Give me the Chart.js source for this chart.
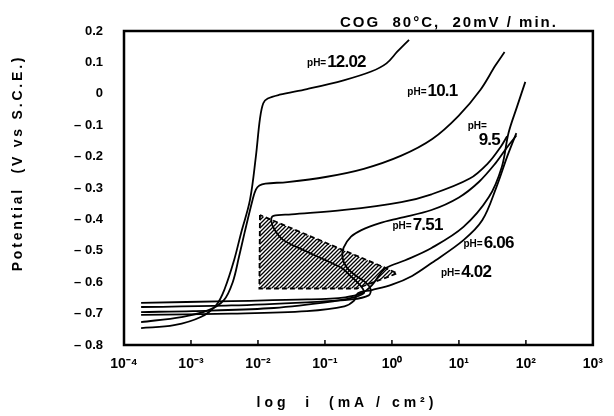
<!DOCTYPE html>
<html>
<head>
<meta charset="utf-8">
<script src="https://cdn.jsdelivr.net/npm/chart.js@4.4.1/dist/chart.umd.min.js"></script>
<style>
  html, body { margin: 0; padding: 0; background: #fff; }
  #wrap { width: 614px; height: 416px; position: relative; }
</style>
</head>
<body>
<div id="wrap"><canvas id="polChart"></canvas></div>
<script>
// Polarization curves, current density (mA/cm2) vs potential (V vs S.C.E.)
const phNames = ['12.02', '10.1', '9.5', '7.51', '6.06', '4.02'];

const i1202 = [1.8e-4, 5.6e-4, 1.4e-3, 2.4e-3, 3.2e-3, 4.4e-3, 5.6e-3, 7.6e-3, 9.3e-3, 0.0107, 0.012, 0.014, 0.021, 0.054, 0.19, 0.49, 0.83, 1.2, 1.8];
const e1202 = [-0.746, -0.737, -0.711, -0.672, -0.62, -0.53, -0.443, -0.338, -0.2, -0.08, -0.03, -0.015, -0.003, 0.015, 0.043, 0.071, 0.097, 0.134, 0.172];

const i101 = [1.8e-4, 7.2e-4, 1.8e-3, 3.1e-3, 4.2e-3, 5.2e-3, 6.3e-3, 8.3e-3, 9.3e-3, 0.0105, 0.0129, 0.0275, 0.102, 0.38, 1.38, 4.0, 9.8, 21, 35, 48];
const e101 = [-0.727, -0.711, -0.69, -0.657, -0.6, -0.52, -0.443, -0.338, -0.305, -0.292, -0.286, -0.281, -0.265, -0.239, -0.197, -0.144, -0.071, 0.013, 0.09, 0.133];

const i95 = [1.8e-4, 1.07e-3, 0.0145, 0.102, 0.25, 0.38, 0.37, 0.32, 0.25, 0.178, 0.1, 0.047, 0.024, 0.0178, 0.0158, 0.017, 0.0316, 0.195, 1.38, 3.9, 14.5, 27.5, 41.7, 52.5];
const e95 = [-0.695, -0.692, -0.683, -0.664, -0.65, -0.635, -0.622, -0.605, -0.583, -0.555, -0.529, -0.497, -0.466, -0.434, -0.405, -0.389, -0.384, -0.37, -0.345, -0.32, -0.27, -0.22, -0.17, -0.135];

const i751 = [1.8e-4, 4.0e-3, 0.054, 0.25, 0.45, 0.48, 0.4, 0.28, 0.21, 0.182, 0.19, 0.245, 0.35, 0.66, 1.29, 3.9, 10, 20, 35.5, 52.5, 72];
const e751 = [-0.679, -0.674, -0.664, -0.655, -0.642, -0.622, -0.6, -0.577, -0.552, -0.52, -0.49, -0.455, -0.434, -0.412, -0.396, -0.37, -0.33, -0.28, -0.22, -0.17, -0.133];

const i606 = [1.8e-4, 4.0e-3, 0.054, 0.2, 0.355, 0.5, 0.66, 0.81, 1.58, 3.9, 11.7, 28, 43.7, 55, 74, 98];
const e606 = [-0.666, -0.66, -0.655, -0.648, -0.635, -0.61, -0.575, -0.555, -0.53, -0.491, -0.424, -0.329, -0.233, -0.125, -0.04, 0.038];

const i402 = [1.8e-4, 4.0e-3, 0.054, 0.195, 0.275, 0.31, 0.5, 1.0, 2.0, 3.9, 11.7, 22.4, 36.3, 52.5, 72];
const e402 = [-0.704, -0.70, -0.692, -0.677, -0.658, -0.635, -0.625, -0.608, -0.58, -0.539, -0.466, -0.402, -0.297, -0.2, -0.125];

// hatched (dashed) region
const hatchI = [0.0107, 0.0105, 0.30, 1.2, 0.81, 0.0125, 0.0107];
const hatchE = [-0.386, -0.62, -0.62, -0.572, -0.555, -0.392, -0.386];

const xDecades = [1e-4, 1e-3, 1e-2, 1e-1, 1, 10, 100, 1000];
const yTicks = [0.2, 0.1, 0, -0.1, -0.2, -0.3, -0.4, -0.5, -0.6, -0.7, -0.8];

// curve labels: where the "pH=" tag sits (current, potential)
const tagI = [0.054, 1.7, 13.5, 1.02, 11.7, 5.4];
const tagE = [0.10, 0.008, -0.10, -0.418, -0.475, -0.568];

const seriesI = [i1202, i101, i95, i751, i606, i402];
const seriesE = [e1202, e101, e95, e751, e606, e402];

const FONT = '"Liberation Sans", Arial, Helvetica, sans-serif';
const sup = { '-': '\u207B', '0': '\u2070', '1': '\u00B9', '2': '\u00B2', '3': '\u00B3', '4': '\u2074' };

function hatchPattern() {
  const c = document.createElement('canvas');
  c.width = 4; c.height = 4;
  const g = c.getContext('2d');
  g.strokeStyle = '#000';
  g.lineWidth = 1.3;
  g.beginPath();
  g.moveTo(0, 4); g.lineTo(4, 0);
  g.moveTo(-1, 1); g.lineTo(1, -1);
  g.moveTo(3, 5); g.lineTo(5, 3);
  g.stroke();
  return g.createPattern(c, 'repeat');
}

const pts = (xs, ys) => xs.map((v, k) => ({ x: v, y: ys[k] }));

const datasets = [{
  label: 'hatch',
  data: pts(hatchI, hatchE),
  showLine: true,
  fill: 'shape',
  backgroundColor: hatchPattern(),
  borderColor: '#000',
  borderWidth: 1.8,
  borderDash: [5, 3],
  tension: 0,
  pointRadius: 0
}];
phNames.forEach((n, k) => {
  datasets.push({
    label: 'pH=' + n,
    data: pts(seriesI[k], seriesE[k]),
    showLine: true,
    fill: false,
    borderColor: '#000',
    borderWidth: 1.8,
    tension: 0.35,
    pointRadius: 0
  });
});

const decor = {
  id: 'decor',
  afterDraw(chart) {
    const { ctx, chartArea: a, scales: { x, y } } = chart;
    ctx.save();
    ctx.fillStyle = '#000';
    ctx.strokeStyle = '#000';

    // frame + inner ticks on the bottom axis
    ctx.lineWidth = 2.5;
    ctx.strokeRect(a.left, a.top, a.right - a.left, a.bottom - a.top);
    ctx.lineWidth = 1.5;
    xDecades.forEach(v => {
      const px = x.getPixelForValue(v);
      ctx.beginPath();
      ctx.moveTo(px, a.bottom);
      ctx.lineTo(px, a.bottom - 5);
      ctx.stroke();
    });

    // curve tags
    ctx.textBaseline = 'middle';
    phNames.forEach((n, k) => {
      const px = x.getPixelForValue(tagI[k]);
      const py = y.getPixelForValue(tagE[k]);
      ctx.font = 'bold 10px ' + FONT;
      ctx.letterSpacing = '0px';
      ctx.textAlign = 'left';
      ctx.fillText('pH=', px, py + 1);
      const w = ctx.measureText('pH=').width;
      ctx.font = 'bold 17px ' + FONT;
      ctx.letterSpacing = '-0.8px';
      if (n === '9.5') {
        ctx.fillText(n, px + 11, py + 15);
      } else {
        ctx.fillText(n, px + w + 1, py);
      }
    });

    // titles
    ctx.letterSpacing = '2px';
    ctx.font = 'bold 15px ' + FONT;
    ctx.textAlign = 'left';
    ctx.textBaseline = 'alphabetic';
    ctx.fillText('COG  80\u00B0C,  20mV / min.', 340, 27);

    ctx.letterSpacing = '4px';
    ctx.font = 'bold 14px ' + FONT;
    ctx.textAlign = 'center';
    ctx.fillText('log  i  (mA / cm\u00B2)', 347, 407);

    ctx.translate(18, 163);
    ctx.rotate(-Math.PI / 2);
    ctx.letterSpacing = '2.8px';
    ctx.font = 'bold 14px ' + FONT;
    ctx.textBaseline = 'middle';
    ctx.fillText('Potential  (V vs S.C.E.)', 0, 0);
    ctx.restore();
  }
};

new Chart(document.getElementById('polChart'), {
  type: 'scatter',
  data: { datasets },
  plugins: [decor],
  options: {
    responsive: true,
    maintainAspectRatio: false,
    animation: false,
    layout: { padding: { top: 31, right: 6, left: 0, bottom: 0 } },
    plugins: {
      legend: { display: false },
      tooltip: { enabled: false }
    },
    scales: {
      x: {
        type: 'logarithmic',
        min: 1e-4,
        max: 1e3,
        afterBuildTicks: s => { s.ticks = xDecades.map(v => ({ value: v })); },
        afterFit: s => { s.height = 71; },
        grid: { display: false, drawTicks: false },
        border: { display: false },
        ticks: {
          autoSkip: false,
          maxRotation: 0,
          padding: 11,
          color: '#000',
          font: { family: FONT, size: 14, weight: 'bold' },
          callback: v => '10' + String(Math.round(Math.log10(v))).split('').map(c => sup[c]).join('')
        }
      },
      y: {
        min: -0.8,
        max: 0.2,
        afterBuildTicks: s => { s.ticks = yTicks.map(v => ({ value: v })); },
        afterFit: s => { s.width = 124; },
        grid: { display: false, drawTicks: false },
        border: { display: false },
        ticks: {
          padding: 21,
          color: '#000',
          font: { family: FONT, size: 13, weight: 'bold' },
          callback: v => {
            const r = Math.round(v * 10) / 10;
            if (r === 0) return '0';
            return r < 0 ? '\u2013 ' + Math.abs(r).toFixed(1) : r.toFixed(1);
          }
        }
      }
    }
  }
});
</script>
</body>
</html>
